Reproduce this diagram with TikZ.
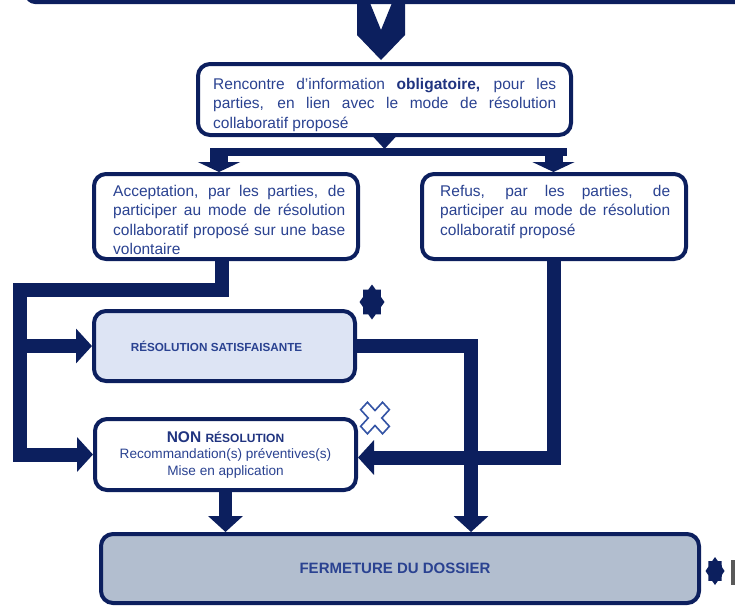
\documentclass[tikz,border=0pt]{standalone}
\usepackage{fontspec}
\setmainfont{Liberation Sans}
\usetikzlibrary{arrows.meta,shapes.geometric,calc}
\definecolor{navy}{RGB}{12,31,94}
\definecolor{txtblue}{RGB}{42,66,145}
\definecolor{txtdark}{RGB}{32,52,128}
\definecolor{resfill}{RGB}{221,228,244}
\definecolor{fermfill}{RGB}{178,190,207}
\definecolor{crossblue}{RGB}{52,84,165}
\begin{document}
\begin{tikzpicture}[x=1pt,y=-1pt,
  box/.style={draw=navy, line width=4pt, rounded corners=12pt, fill=white, inner sep=0pt},
  txt/.style={text=txtblue, font=\fontsize{15.5}{19.5}\selectfont, align=left, inner sep=0pt},
  conn/.style={draw=navy, line width=14pt, line join=miter},
  tip/.style={-{Triangle[width=34pt,length=16pt]}},
  widetip/.style={-{Triangle[width=42pt,length=10pt]}},
]
\useasboundingbox (0,0) rectangle (735,606);

% top band (bottom of the box above) and chevron
\fill[navy, rounded corners=10pt] (25,-40) rectangle (760,4);
\fill[navy] (357,3) -- (370,3) -- (381,30) -- (392,3) -- (405,3) -- (405,35) -- (381,60) -- (357,35) -- cycle;

% boxes
\node[box, minimum width=373pt, minimum height=71pt] (renc) at (384.5,99.5) {};
\node[txt, anchor=north west] (renctxt) at (213,77.7)
  {\makebox[343pt][s]{Rencontre d'information {\color{txtdark}\bfseries obligatoire,} pour les}\\
   \makebox[343pt][s]{parties, en lien avec le mode de résolution}\\
   collaboratif proposé};

\node[box, minimum width=264pt, minimum height=85pt] (accept) at (226,216.5) {};
\node[txt, anchor=north west] (accepttxt) at (113,184.7)
  {\makebox[232pt][s]{Acceptation, par les parties, de}\\
   \makebox[232pt][s]{participer au mode de résolution}\\
   \makebox[232pt][s]{collaboratif proposé sur une base}\\
   volontaire};

\node[box, minimum width=264pt, minimum height=85pt] (refus) at (554,216.5) {};
\node[txt, anchor=north west] (refustxt) at (440,184.7)
  {\makebox[230pt][s]{Refus, par les parties, de}\\
   \makebox[230pt][s]{participer au mode de résolution}\\
   collaboratif proposé};

\node[box, fill=resfill, minimum width=261pt, minimum height=70pt,
      font=\bfseries\fontsize{11.7}{14}\selectfont, text=txtblue] (res) at (224.5,346)
  {RÉSOLUTION SATISFAISANTE\hspace*{16pt}};

\node[box, minimum width=261pt, minimum height=71pt, align=center, text=txtblue,
      font=\fontsize{13.6}{16.5}\selectfont] (non) at (225.5,454.5)
  {{\color{txtdark}\bfseries\fontsize{15.5}{16.5}\selectfont NON \fontsize{12}{16.5}\selectfont RÉSOLUTION}\\
   Recommandation(s) préventives(s)\\
   Mise en application};

\node[box, fill=fermfill, minimum width=598pt, minimum height=69pt,
      font=\bfseries\fontsize{15}{18}\selectfont, text=txtblue] (ferm) at (400,568.5)
  {FERMETURE DU DOSSIER\hspace*{10pt}};

% connectors
\fill[navy] ($(renc.south)+(-12,-1)$) -- ($(renc.south)+(12,-1)$) -- ($(renc.south)+(0,12)$) -- cycle;
\coordinate (barL) at (210,152);
\coordinate (barR) at (567,152);
\draw[navy, line width=8pt] (barL) -- (barR);
\draw[navy, line width=18pt, widetip] ($(barL)+(9,0)$) -- ($(accept.north)+(-7,0)$);
\draw[navy, line width=18pt, widetip] ($(barR)+(-13.5,0)$) -- ($(refus.north)+(-0.5,0)$);

\coordinate (lcorner) at (20,290);
\coordinate (ljoin) at (20,346);
\draw[conn, tip] ($(accept.south)+(-4,0)$) |- (lcorner) |- (non.west);
\draw[conn, tip] (ljoin) -- (res.west);
\draw[conn, tip] (res.east) -| ($(ferm.north)+(71,0)$);
\draw[conn, tip] (refus.south) |- ($(non.east)+(0,3)$);
\draw[conn, line width=13pt, tip] (non.south) -- (non.south |- ferm.north);

% marks: eight-pointed stars and cross
\fill[navy, shift={(372,302)}] plot[samples at={0,1,...,15}, variable=\k]
  ({(mod(\k,2)==0?12.5:9.6)*cos(90+22.5*\k)}, {(mod(\k,2)==0?17.5:13.5)*sin(90+22.5*\k)}) -- cycle;
\fill[navy, shift={(715,571)}] plot[samples at={0,1,...,15}, variable=\k]
  ({(mod(\k,2)==0?9.5:7.3)*cos(90+22.5*\k)}, {(mod(\k,2)==0?14:10.8)*sin(90+22.5*\k)}) -- cycle;
\begin{scope}[shift={(375,418)}, yscale=1.1, rotate=45]
  \draw[crossblue, line width=1.6pt, fill=white, line join=miter]
    (-4.8,-15.5) -- (4.8,-15.5) -- (4.8,-4.8) -- (15.5,-4.8) -- (15.5,4.8) -- (4.8,4.8)
    -- (4.8,15.5) -- (-4.8,15.5) -- (-4.8,4.8) -- (-15.5,4.8) -- (-15.5,-4.8) -- (-4.8,-4.8) -- cycle;
\end{scope}
\fill[gray!70!black] (731,560) rectangle (735,585);
\end{tikzpicture}
\end{document}
